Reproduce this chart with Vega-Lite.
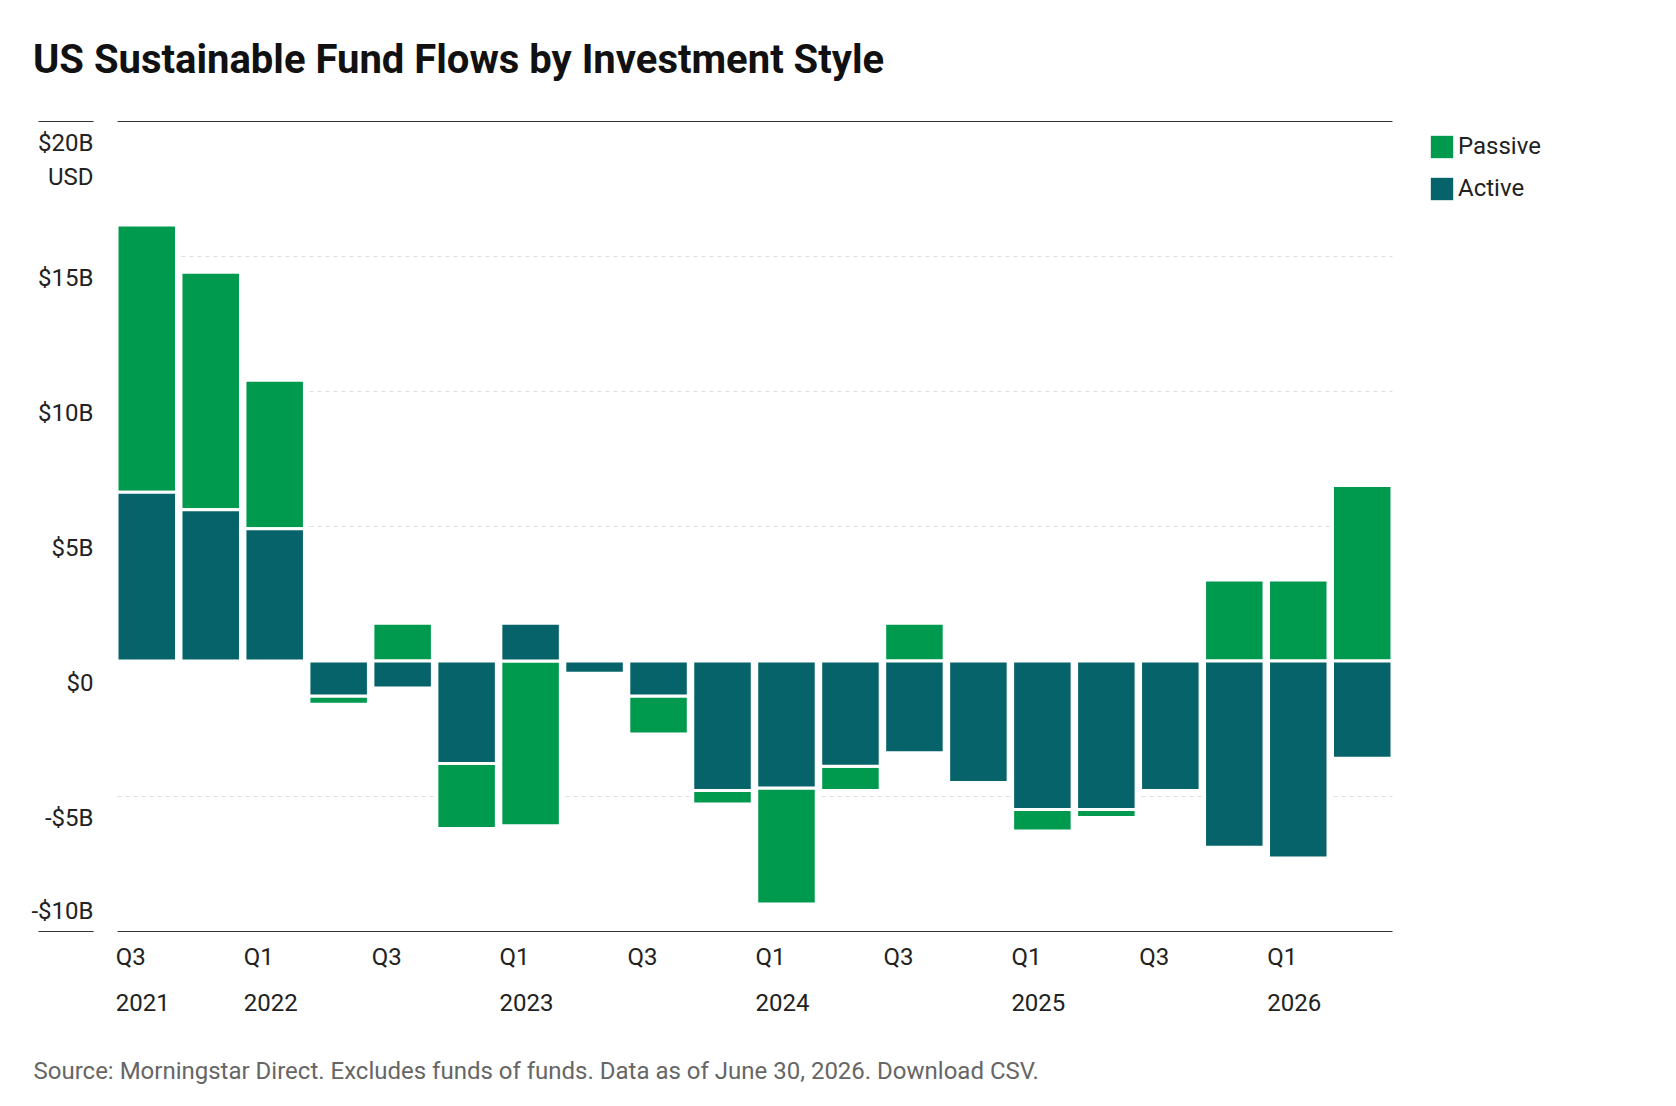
{
  "$schema": "https://vega.github.io/schema/vega-lite/v6.json",
  "width": 1275,
  "height": 810,
  "autosize": "none",
  "padding": {"left": 117, "top": 121, "right": 284, "bottom": 175},
  "background": "white",
  "title": {"text": "US Sustainable Fund Flows by Investment Style", "anchor": "start", "frame": "group", "dx": -84, "offset": 40, "fontSize": 40, "font": "Roboto", "fontWeight": "bold", "color": "#111"},
  "config": {"view": {"stroke": null}, "font": "Roboto"},
  "data": {"values": [
    {"q":"Q3 2021","i":0,"Active":6.25,"Passive":9.9},
    {"q":"Q4 2021","i":1,"Active":5.6,"Passive":8.8},
    {"q":"Q1 2022","i":2,"Active":4.9,"Passive":5.5},
    {"q":"Q2 2022","i":3,"Active":-1.3,"Passive":-0.3},
    {"q":"Q3 2022","i":4,"Active":-1.0,"Passive":1.4},
    {"q":"Q4 2022","i":5,"Active":-3.8,"Passive":-2.4},
    {"q":"Q1 2023","i":6,"Active":1.4,"Passive":-6.1},
    {"q":"Q2 2023","i":7,"Active":-0.45,"Passive":0},
    {"q":"Q3 2023","i":8,"Active":-1.3,"Passive":-1.4},
    {"q":"Q4 2023","i":9,"Active":-4.8,"Passive":-0.5},
    {"q":"Q1 2024","i":10,"Active":-4.7,"Passive":-4.3},
    {"q":"Q2 2024","i":11,"Active":-3.9,"Passive":-0.9},
    {"q":"Q3 2024","i":12,"Active":-3.4,"Passive":1.4},
    {"q":"Q4 2024","i":13,"Active":-4.5,"Passive":0.05},
    {"q":"Q1 2025","i":14,"Active":-5.5,"Passive":-0.8},
    {"q":"Q2 2025","i":15,"Active":-5.5,"Passive":-0.3},
    {"q":"Q3 2025","i":16,"Active":-4.8,"Passive":0},
    {"q":"Q4 2025","i":17,"Active":-6.9,"Passive":3.0},
    {"q":"Q1 2026","i":18,"Active":-7.3,"Passive":3.0},
    {"q":"Q2 2026","i":19,"Active":-3.6,"Passive":6.5}
  ]},
  "transform": [
    {"fold": ["Passive", "Active"], "as": ["style", "v"]},
    {"calculate": "datum.style == 'Active' ? 0 : 1", "as": "ord"}
  ],
  "mark": {"type": "bar", "stroke": "white", "strokeWidth": 3},
  "encoding": {
    "x": {"field": "q", "type": "ordinal", "sort": {"field": "i"},
      "scale": {"paddingInner": 0.07, "paddingOuter": 0},
      "axis": {"domain": false, "ticks": false, "labelAngle": 0, "labelAlign": "left", "labelBaseline": "top",
        "labelExpr": "indexof(['Q3 2021','Q1 2022','Q1 2023','Q1 2024','Q1 2025','Q1 2026'], datum.value) >= 0 ? [slice(datum.value,0,2), slice(datum.value,3)] : (slice(datum.value,0,2) == 'Q3' ? slice(datum.value,0,2) : '')",
        "labelFontSize": 24, "labelColor": "#222", "labelPadding": 14, "labelLineHeight": 46, "labelOffset": -31,
        "title": "Source: Morningstar Direct. Excludes funds of funds. Data as of June 30, 2026. Download CSV.",
        "titleAnchor": "start", "titleX": -84, "titleY": 128, "titleFontSize": 24, "titleFontWeight": "normal", "titleColor": "#666"}},
    "y": {"field": "v", "type": "quantitative", "stack": "zero",
      "scale": {"domain": [-10, 20], "nice": false},
      "axis": {"values": [-10, -5, 0, 5, 10, 15, 20], "domain": false, "title": null, "offset": 24,
        "labelExpr": "datum.value == 20 ? ['$20B','USD'] : (datum.value == 0 ? '$0' : (datum.value < 0 ? '-$' + abs(datum.value) + 'B' : '$' + datum.value + 'B'))",
        "labelAlign": "right", "labelBaseline": {"expr": "datum.value == -10 ? 'bottom' : 'top'"},
        "labelPadding": -55, "labelOffset": {"expr": "datum.value == -10 ? -8 : 10"}, "labelFontSize": 24, "labelColor": "#222", "labelLineHeight": 34,
        "tickSize": 55,
        "tickColor": {"expr": "datum.value == 20 || datum.value == -10 ? '#333' : 'transparent'"},
        "gridColor": {"expr": "datum.value == 20 || datum.value == -10 ? '#333' : '#ddd'"},
        "gridDash": {"expr": "datum.value == 20 || datum.value == -10 ? [] : [4, 4]"}}},
    "color": {"field": "style", "type": "nominal", "scale": {"domain": ["Passive", "Active"], "range": ["#009a4e", "#06636a"]},
      "legend": {"title": null, "orient": "none", "legendX": 1313, "legendY": 14, "symbolType": "square", "symbolSize": 500, "labelFontSize": 24, "labelColor": "#222", "rowPadding": 18, "symbolStrokeWidth": 0}},
    "order": {"field": "ord"}
  }
}
